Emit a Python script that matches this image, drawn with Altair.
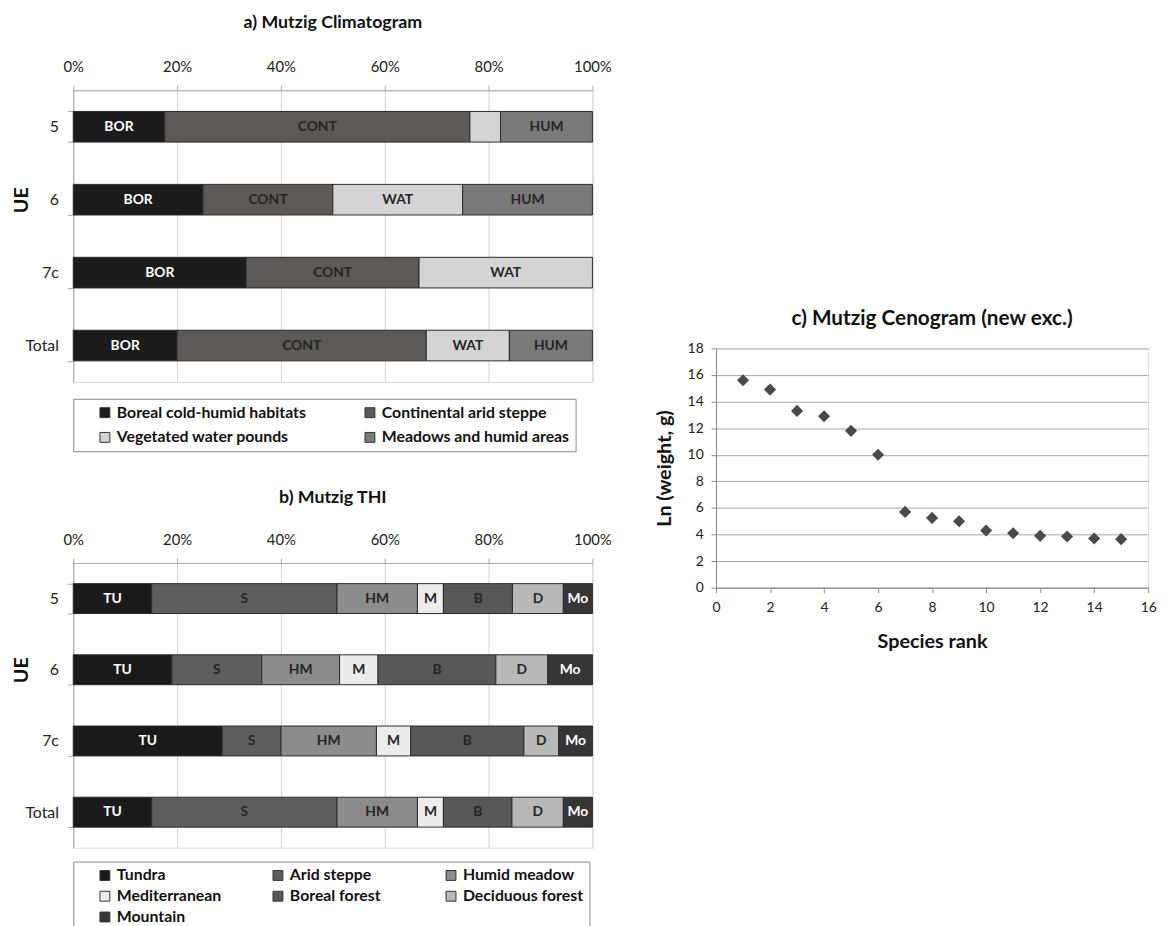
import altair as alt
import pandas as pd

# ---------------- data ----------------
UE = ["5", "6", "7c", "Total"]

CLIM_CODES = ["BOR", "CONT", "WAT", "HUM"]
CLIM_NAMES = ["Boreal cold-humid habitats", "Continental arid steppe",
              "Vegetated water pounds", "Meadows and humid areas"]
clim_5 = [17.6, 58.8, 5.9, 17.7]
clim_6 = [25.0, 25.0, 25.0, 25.0]
clim_7c = [33.3, 33.3, 33.4, 0.0]
clim_total = [20.0, 48.0, 16.0, 16.0]

THI_CODES = ["TU", "S", "HM", "M", "B", "D", "Mo"]
THI_NAMES = ["Tundra", "Arid steppe", "Humid meadow", "Mediterranean",
             "Boreal forest", "Deciduous forest", "Mountain"]
thi_5 = [15.1, 35.7, 15.5, 5.0, 13.3, 9.8, 5.6]
thi_6 = [19.0, 17.3, 15.0, 7.4, 22.7, 10.0, 8.6]
thi_7c = [28.7, 11.3, 18.4, 6.6, 21.8, 6.7, 6.5]
thi_total = [15.1, 35.7, 15.5, 5.0, 13.2, 9.9, 5.6]

species_rank = list(range(1, 16))
ln_weight = [15.6, 14.9, 13.3, 12.9, 11.8, 10.0, 5.7, 5.25, 5.0, 4.3,
             4.1, 3.9, 3.85, 3.7, 3.65]

# ---------------- styles ----------------
CLIM_COLORS = ["#1c1c1c", "#5c5957", "#d4d4d4", "#7a7a7a"]
THI_COLORS = ["#1a1a1a", "#5e5e5e", "#8c8c8c", "#ececec", "#585858", "#b8b8b8", "#363636"]
FONT = "Lato"


def make_df(codes, names, rows):
    recs = []
    for ue, vals in zip(UE, rows):
        for i, (c, n, v) in enumerate(zip(codes, names, vals)):
            if v > 0:
                recs.append({"UE": ue, "code": c, "name": n, "ord": i, "pct": v})
    return pd.DataFrame(recs)


df_a = make_df(CLIM_CODES, CLIM_NAMES, [clim_5, clim_6, clim_7c, clim_total])
df_b = make_df(THI_CODES, THI_NAMES, [thi_5, thi_6, thi_7c, thi_total])
df_c = pd.DataFrame({"rank": species_rank, "w": ln_weight})


def stacked_panel(df, names, colors, title, white_codes, hide_expr,
                  height, legend_y, legend_cols, col_pad, row_pad, title_offset):
    base = alt.Chart(df).transform_stack(
        stack="pct", groupby=["UE"], sort=[alt.SortField("ord")],
        as_=["x0", "x1"], offset="normalize"
    ).transform_calculate(xm="(datum.x0 + datum.x1) / 2")

    y = alt.Y("UE:N", sort=UE,
              scale=alt.Scale(paddingInner=0.58, paddingOuter=0.29),
              axis=alt.Axis(title="UE", titleFont=FONT, titleFontSize=20,
                            titleFontWeight="bold", titleColor="#111",
                            titleAngle=-90, titleX=-52, titleY=height * 0.375,
                            titleAlign="center", titleBaseline="middle",
                            labelFont=FONT, labelFontSize=16, labelColor="#222",
                            labelPadding=9, tickBand="extent", tickSize=6,
                            tickColor="#aaa", domainColor="#aaa"))
    x_axis = alt.Axis(orient="top", format=".0%", values=[0, 0.2, 0.4, 0.6, 0.8, 1.0],
                      labelFont=FONT, labelFontSize=15, labelColor="#222",
                      labelFlush=False, labelPadding=11, tickSize=5,
                      tickColor="#aaa", domainColor="#aaa", grid=True,
                      gridColor="#d2d2d2", title=None)
    bars = base.mark_bar(stroke="#2b2b2b", strokeWidth=1).encode(
        x=alt.X("x0:Q", scale=alt.Scale(domain=[0, 1]), axis=x_axis),
        x2="x1:Q",
        y=y,
        color=alt.Color("name:N", scale=alt.Scale(domain=names, range=colors),
                        legend=alt.Legend(
                            title=" ", titleOrient="left", titlePadding=18,
                            orient="none", legendX=0, legendY=legend_y,
                            direction="horizontal", gridAlign="all",
                            columns=legend_cols, columnPadding=col_pad,
                            rowPadding=row_pad,
                            padding=6, strokeColor="#888",
                            symbolType="square", symbolSize=100,
                            symbolStrokeColor="#333", symbolStrokeWidth=1,
                            labelFont=FONT, labelFontSize=16, labelFontWeight="bold",
                            labelColor="#111", labelLimit=400)),
        order=alt.Order("ord:Q"),
    )
    white_test = " || ".join(f"datum.code == '{c}'" for c in white_codes)
    labels = base.transform_filter(f"!({hide_expr})").mark_text(
        font=FONT, fontSize=14, fontWeight="bold", baseline="middle",
        align="center").encode(
        x="xm:Q",
        y=y,
        text="code:N",
        color=alt.condition(white_test, alt.value("white"), alt.value("#262626")),
    )
    return alt.layer(bars, labels).properties(
        width=525, height=height,
        title=alt.TitleParams(title, font=FONT, fontSize=18, fontWeight="bold",
                              color="#111", anchor="middle", frame="group",
                              offset=title_offset),
    )


panel_a = stacked_panel(df_a, CLIM_NAMES, CLIM_COLORS, "a) Mutzig Climatogram",
                        ["BOR"], "datum.UE == '5' && datum.code == 'WAT'",
                        295, 312, 2, 56, 9, 28)
panel_b = stacked_panel(df_b, THI_NAMES, THI_COLORS, "b) Mutzig THI",
                        ["TU", "Mo"], "false",
                        288, 302, 3, 33, 5, 26)

panel_c = alt.Chart(df_c).mark_point(shape="diamond", filled=True, size=150,
                                     color="#4a4a4a", opacity=1).encode(
    x=alt.X("rank:Q", scale=alt.Scale(domain=[0, 16]),
            axis=alt.Axis(values=list(range(0, 17, 2)), grid=False, labelFlush=False,
                          labelFont=FONT, labelFontSize=14, labelColor="#222",
                          tickColor="#888", domainColor="#888", tickSize=5,
                          labelPadding=8,
                          title="Species rank", titleFont=FONT, titleFontSize=20,
                          titleFontWeight="bold", titleColor="#111", titlePadding=17)),
    y=alt.Y("w:Q", scale=alt.Scale(domain=[0, 18]),
            axis=alt.Axis(values=list(range(0, 19, 2)), grid=True, gridColor="#a8a8a8",
                          labelFont=FONT, labelFontSize=14, labelColor="#222",
                          tickColor="#888", domainColor="#888", tickSize=5,
                          labelPadding=8,
                          title="Ln (weight, g)", titleFont=FONT, titleFontSize=20,
                          titleFontWeight="bold", titleColor="#111", titlePadding=13)),
).properties(
    width=437, height=242,
    title=alt.TitleParams("c) Mutzig Cenogram (new exc.)", font=FONT, fontSize=21,
                          fontWeight="bold", color="#111", anchor="middle",
                          frame="group", offset=13),
)

spacer = alt.Chart(pd.DataFrame({"s": [0]})).mark_rule(
    opacity=0, strokeWidth=0, color="white").encode(
    x=alt.value(0), y=alt.value(0), y2=alt.value(208)
).properties(width=10, height=208,
             view=alt.ViewBackground(stroke="transparent", fill="transparent"))

left = alt.vconcat(panel_a, panel_b, spacing=36).resolve_scale(color="independent")
right = alt.vconcat(spacer, panel_c, spacing=10)

chart = alt.hconcat(left, right, spacing=42).properties(
    padding={"left": 3, "top": 0, "right": 5, "bottom": 0}
).configure_view(stroke=None).configure(font=FONT)

chart.save("out.html", embed_options={"renderer": "svg", "actions": False})
